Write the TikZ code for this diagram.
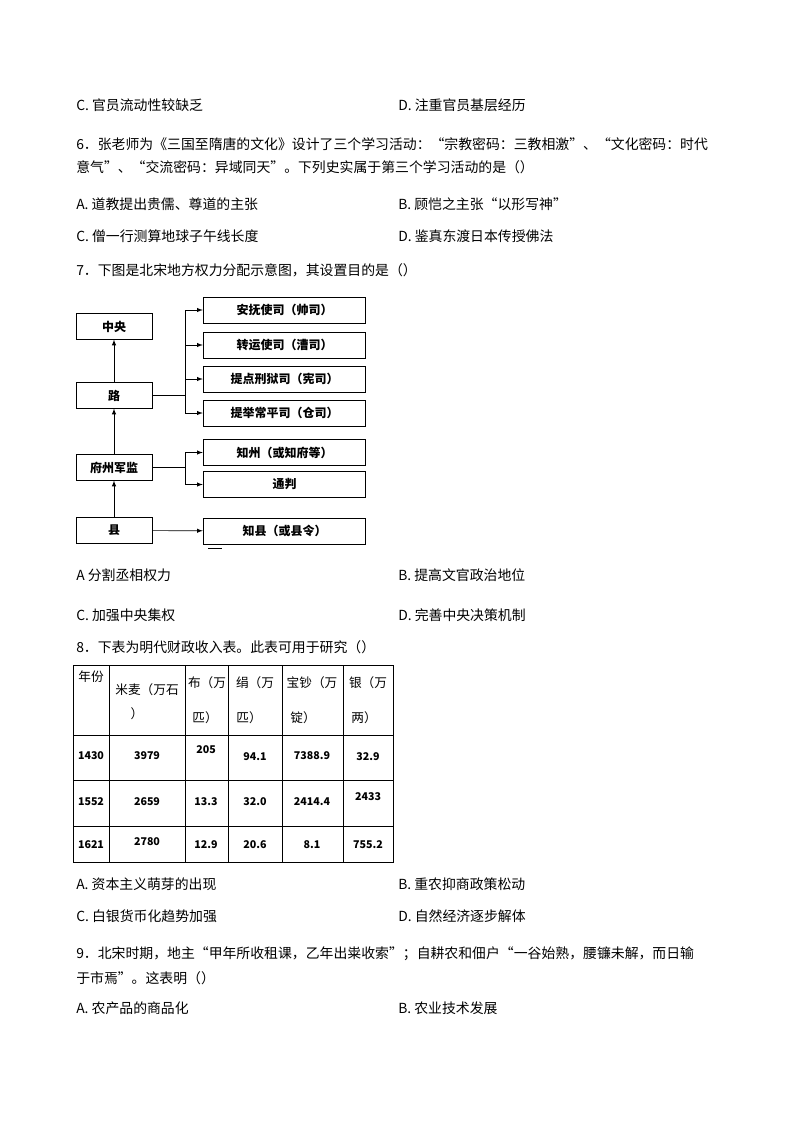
\documentclass[tikz,border=0pt]{standalone}
\usepackage{fontspec}
\setmainfont{Noto Sans CJK SC}
\begin{document}
\begin{tikzpicture}[x=0.75pt,y=-0.75pt,
  txt/.style={anchor=west,inner sep=0pt,font=\fontsize{10.4pt}{12pt}\selectfont},
  bx/.style={draw,line width=0.6pt,inner sep=0pt,font=\fontsize{9pt}{10pt}\selectfont\bfseries},
  arr/.style={-latex,line width=0.5pt},
  cell/.style={inner sep=0pt,font=\fontsize{9.5pt}{11pt}\selectfont},
  num/.style={inner sep=0pt,font=\fontsize{8pt}{10pt}\selectfont\bfseries}]
\useasboundingbox (0,0) rectangle (793,1121);
\fill[white] (0,0) rectangle (793,1121);
% text lines
\node[txt] (l1) at (76,105) {C. 官员流动性较缺乏};
\node[txt] (l1d) at (398,105) {D. 注重官员基层经历};
\node[txt] (l2) at (76,144) {6．张老师为《三国至隋唐的文化》设计了三个学习活动：“宗教密码：三教相激”、“文化密码：时代};
\node[txt] (l3) at (76,167) {意气”、“交流密码：异域同天”。下列史实属于第三个学习活动的是（）};
\node[txt] (l4) at (76,204) {A. 道教提出贵儒、尊道的主张};
\node[txt] (l4b) at (398,204) {B. 顾恺之主张“以形写神”};
\node[txt] (l5) at (76,236) {C. 僧一行测算地球子午线长度};
\node[txt] (l5b) at (398,236) {D. 鉴真东渡日本传授佛法};
\node[txt] (l6) at (76,270) {7．下图是北宋地方权力分配示意图，其设置目的是（）};
% diagram
\node[bx,minimum width=57pt,minimum height=19pt] (zy) at (114,326.5) {中央};
\node[bx,minimum width=57pt,minimum height=19pt] (lu) at (114,395.5) {路};
\node[bx,minimum width=57pt,minimum height=19pt] (fz) at (114,467.5) {府州军监};
\node[bx,minimum width=57pt,minimum height=19pt] (xi) at (114,530.5) {县};
\node[bx,minimum width=122pt,minimum height=19.5pt] (r1) at (284.5,310) {安抚使司（帅司）};
\node[bx,minimum width=122pt,minimum height=19.5pt] (r2) at (284.5,345) {转运使司（漕司）};
\node[bx,minimum width=122pt,minimum height=19.5pt] (r3) at (284.5,379) {提点刑狱司（宪司）};
\node[bx,minimum width=122pt,minimum height=19.5pt] (r4) at (284.5,413) {提举常平司（仓司）};
\node[bx,minimum width=122pt,minimum height=20pt] (r5) at (284.5,452.5) {知州（或知府等）};
\node[bx,minimum width=122pt,minimum height=20pt] (r6) at (284.5,484.5) {通判};
\node[bx,minimum width=122pt,minimum height=19.5pt] (r7) at (284.5,531) {知县（或县令）};
\draw[arr] (lu) -- (zy);
\draw[arr] (fz) -- (lu);
\draw[arr] (xi) -- (fz);
\coordinate (b1) at (185,395.5);
\draw[line width=0.5pt] (lu.east) -- (b1);
\draw[line width=0.5pt] (185,310) -- (185,413);
\foreach \r in {r1,r2,r3,r4} \draw[arr] (185,0 |- \r.west) -- (\r.west);
\coordinate (b2) at (185,467.5);
\draw[line width=0.5pt] (fz.east) -- (b2);
\draw[line width=0.5pt] (185,452.5) -- (185,484.5);
\foreach \r in {r5,r6} \draw[arr] (185,0 |- \r.west) -- (\r.west);
\draw[arr] (xi) -- (r7);
\draw[line width=0.6pt] (208,548) -- (222,548);
% options 7
\node[txt] (o1) at (76,575) {A 分割丞相权力};
\node[txt] (o2) at (398,575) {B. 提高文官政治地位};
\node[txt] (o3) at (76,615) {C. 加强中央集权};
\node[txt] (o4) at (398,615) {D. 完善中央决策机制};
\node[txt] (q8) at (76,647) {8．下表为明代财政收入表。此表可用于研究（）};
% table
\draw[line width=0.6pt] (73,665) rectangle (393,862);
\foreach \x in {109,185,228,282,343} \draw[line width=0.6pt] (\x,665) -- (\x,862);
\foreach \y in {735,780,826} \draw[line width=0.6pt] (73,\y) -- (393,\y);
\node[cell] (h0) at (91,677) {年份};
\node[cell] (h1a) at (147,690) {米麦（万石};
\node[cell] (h1b) at (137,714) {）};
\node[cell] (h2a) at (207,683) {布（万};
\node[cell] (h2b) at (205,718) {匹）};
\node[cell] (h3a) at (255,683) {绢（万};
\node[cell] (h3b) at (249,718) {匹）};
\node[cell] (h4a) at (312,683) {宝钞（万};
\node[cell] (h4b) at (303,718) {锭）};
\node[cell] (h5a) at (368,683) {银（万};
\node[cell] (h5b) at (364,718) {两）};
\node[num] at (91,756) {1430};
\node[num] at (147,756) {3979};
\node[num] at (206,750) {205};
\node[num] at (255,757) {94.1};
\node[num] at (312,756) {7388.9};
\node[num] at (368,757) {32.9};
\node[num] at (91,802) {1552};
\node[num] at (147,802) {2659};
\node[num] at (206,802) {13.3};
\node[num] at (255,802) {32.0};
\node[num] at (312,802) {2414.4};
\node[num] at (368,797) {2433};
\node[num] at (91,845) {1621};
\node[num] at (147,842) {2780};
\node[num] at (206,845) {12.9};
\node[num] at (255,845) {20.6};
\node[num] at (312,845) {8.1};
\node[num] at (368,845) {755.2};
\node[txt] (p1) at (76,884) {A. 资本主义萌芽的出现};
\node[txt] (p2) at (398,884) {B. 重农抑商政策松动};
\node[txt] (p3) at (76,916) {C. 白银货币化趋势加强};
\node[txt] (p4) at (398,916) {D. 自然经济逐步解体};
\node[txt] (q9) at (76,954) {9．北宋时期，地主“甲年所收租课，乙年出粜收索”；自耕农和佃户“一谷始熟，腰镰未解，而日输};
\node[txt] (q9b) at (76,978) {于市焉”。这表明（）};
\node[txt] (s1) at (76,1008) {A. 农产品的商品化};
\node[txt] (s2) at (398,1008) {B. 农业技术发展};
\end{tikzpicture}
\end{document}
